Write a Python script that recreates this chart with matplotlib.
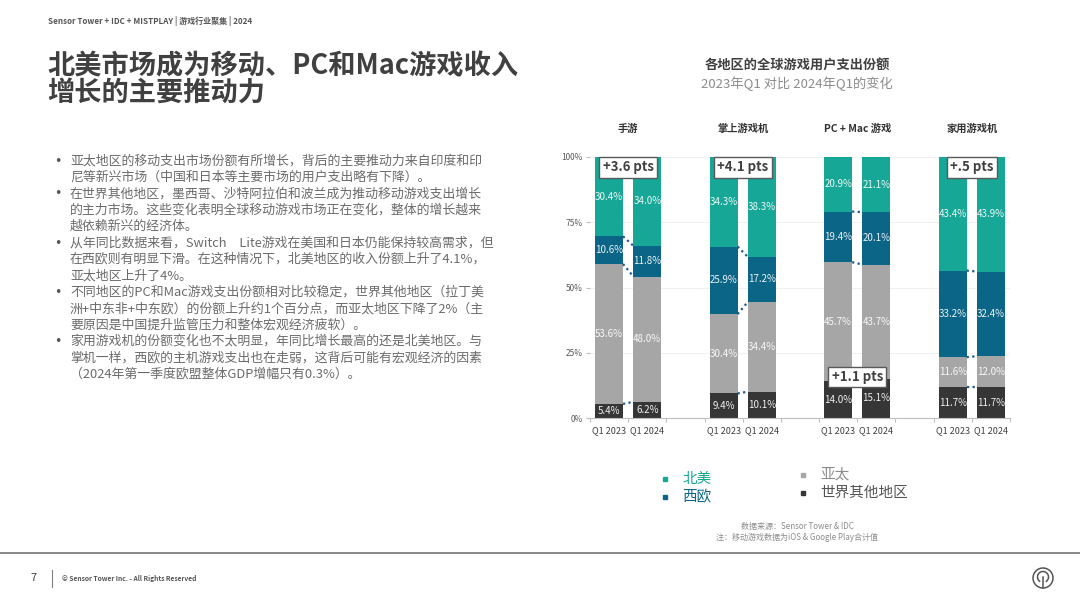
import matplotlib.pyplot as plt
from matplotlib.lines import Line2D
from matplotlib.patches import Circle, Arc
import numpy as np

plt.rcParams["font.family"] = ["Noto Sans CJK SC", "DejaVu Sans"]

W, H = 1080, 607

# ---- data -------------------------------------------------------------
platforms = ["手游", "掌上游戏机", "PC + Mac 游戏", "家用游戏机"]
periods = ["Q1 2023", "Q1 2024"]
regions = ["世界其他地区", "亚太", "西欧", "北美"]  # stacked bottom -> top

# share of spend (%), per platform: [Q1 2023, Q1 2024]
row_share = [[5.4, 6.2], [9.4, 10.1], [14.0, 15.1], [11.7, 11.7]]
apac_share = [[53.6, 48.0], [30.4, 34.4], [45.7, 43.7], [11.6, 12.0]]
weu_share = [[10.6, 11.8], [25.9, 17.2], [19.4, 20.1], [33.2, 32.4]]
na_share = [[30.4, 34.0], [34.3, 38.3], [20.9, 21.1], [43.4, 43.9]]

change_labels = ["+3.6 pts", "+4.1 pts", "+1.1 pts", "+.5 pts"]
change_region = ["北美", "北美", "世界其他地区", "北美"]

bullets = [
    ["亚太地区的移动支出市场份额有所增长，背后的主要推动力来自印度和印",
     "尼等新兴市场（中国和日本等主要市场的用户支出略有下降）。"],
    ["在世界其他地区，墨西哥、沙特阿拉伯和波兰成为推动移动游戏支出增长",
     "的主力市场。这些变化表明全球移动游戏市场正在变化，整体的增长越来",
     "越依赖新兴的经济体。"],
    ["从年同比数据来看，Switch\u3000Lite游戏在美国和日本仍能保持较高需求，但",
     "在西欧则有明显下滑。在这种情况下，北美地区的收入份额上升了4.1%，",
     "亚太地区上升了4%。"],
    ["不同地区的PC和Mac游戏支出份额相对比较稳定，世界其他地区（拉丁美",
     "洲+中东非+中东欧）的份额上升约1个百分点，而亚太地区下降了2%（主",
     "要原因是中国提升监管压力和整体宏观经济疲软）。"],
    ["家用游戏机的份额变化也不太明显，年同比增长最高的还是北美地区。与",
     "掌机一样，西欧的主机游戏支出也在走弱，这背后可能有宏观经济的因素",
     "（2024年第一季度欧盟整体GDP增幅只有0.3%）。"],
]

colors = {"北美": "#17a797", "西欧": "#0b6587", "亚太": "#a6a6a6", "世界其他地区": "#363636"}
shares = {"世界其他地区": row_share, "亚太": apac_share, "西欧": weu_share, "北美": na_share}


def fx(px):
    return px / W


def fy(py):
    return 1 - py / H


fig = plt.figure(figsize=(10.8, 6.07), dpi=100)
fig.patch.set_facecolor("white")

# ---- page header / title -------------------------------------------------
fig.text(fx(48), fy(21), "Sensor Tower + IDC + MISTPLAY | 游戏行业聚集 | 2024",
         fontsize=5.8, fontweight="bold", color="#555555", va="center")
fig.text(fx(47), fy(66), "北美市场成为移动、PC和Mac游戏收入", fontsize=19.6,
         fontweight="bold", color="#404040", va="center")
fig.text(fx(47), fy(93), "增长的主要推动力", fontsize=19.6,
         fontweight="bold", color="#404040", va="center")

# ---- bullet text ------------------------------------------------------------
y = 161
for para in bullets:
    fig.text(fx(54), fy(y), "•", fontsize=9, family="DejaVu Sans",
             color="#555555", va="center")
    for line in para:
        fig.text(fx(70), fy(y), line, fontsize=9.3, color="#6b6b6b", va="center")
        y += 16.4

# ---- chart ------------------------------------------------------------------
fig.text(fx(797), fy(65), "各地区的全球游戏用户支出份额", fontsize=9.5,
         fontweight="bold", color="#404040", ha="center", va="center")
fig.text(fx(797), fy(84), "2023年Q1 对比 2024年Q1的变化", fontsize=9.5,
         color="#8c8c8c", ha="center", va="center")

ax = fig.add_axes([fx(590), fy(418), fx(1010) - fx(590), fy(157) - fy(418)])
bar_w = 0.73
n_cat = 3 * len(platforms) - 1
ax.set_xlim(-0.5, n_cat - 0.5)
ax.set_ylim(0, 100)

for g, name in enumerate(platforms):
    tops = {}
    for p in range(2):
        x = 3 * g + p
        bottom = 0.0
        for reg in regions:
            v = shares[reg][g][p]
            ax.bar(x, v, bottom=bottom, width=bar_w, color=colors[reg], zorder=2)
            ax.text(x, bottom + v / 2, f"{v:.1f}%", ha="center", va="center",
                    fontsize=7, color="white", alpha=0.92, zorder=3)
            bottom += v
            tops[(reg, p)] = bottom
    # dotted connectors between the two bars
    for reg in regions[:3]:
        ax.plot([3 * g + bar_w / 2, 3 * g + 1 - bar_w / 2],
                [tops[(reg, 0)], tops[(reg, 1)]], linestyle=(0, (1, 1.5)),
                color="#1f5a8a", lw=1.6, zorder=3, clip_on=False)
    # platform heading
    ax.text(3 * g + 0.5, 111, name, ha="center", va="center", fontsize=7.4,
            fontweight="bold", color="#333333", clip_on=False)
    # change annotation box
    reg = change_region[g]
    if reg == "北美":
        by = 96
    else:
        by = max(shares[reg][g]) + 0.6
    ax.text(3 * g + 0.5, by, change_labels[g], ha="center", va="center",
            fontsize=9.5, fontweight="semibold", color="#404040", zorder=5,
            bbox=dict(boxstyle="square,pad=0.25", fc="white", ec="#595959", lw=1.0))

label_pos = [3 * g + p for g in range(len(platforms)) for p in range(2)]
ax.set_xticks(label_pos)
ax.set_xticklabels(periods * len(platforms), fontsize=6.5, color="#404040")
ax.tick_params(axis="x", which="major", length=0, pad=6)
ax.set_xticks(np.arange(-0.5, n_cat, 1.0), minor=True)
ax.tick_params(axis="x", which="minor", length=3, color="#bfbfbf", width=0.8)

ax.set_yticks([0, 25, 50, 75, 100])
ax.set_yticklabels(["0%", "25%", "50%", "75%", "100%"], fontsize=6, color="#595959")
ax.tick_params(axis="y", length=3, color="#bfbfbf", width=0.8, pad=2)
ax.grid(axis="y", color="#f0f0f0", lw=0.8, zorder=0)
for side in ["top", "right", "left"]:
    ax.spines[side].set_visible(False)
ax.spines["bottom"].set_color("#bfbfbf")
ax.spines["bottom"].set_linewidth(0.8)

# ---- legend -----------------------------------------------------------------
legend_items = [("北美", 665, 479, "#17a797"), ("西欧", 665, 497, "#0b6587"),
                ("亚太", 803, 475, "#8c8c8c"), ("世界其他地区", 803, 493, "#555555")]
for reg, lx, ly, tc in legend_items:
    fig.add_artist(Line2D([fx(lx)], [fy(ly)], marker="s", markersize=2.6,
                          color=colors[reg], linestyle="none"))
    fig.text(fx(lx + 17), fy(ly), reg, fontsize=10.5, color=tc, va="center")

fig.text(fx(797), fy(526), "数据来源：Sensor Tower & IDC", fontsize=5.8,
         color="#8c8c8c", ha="center", va="center")
fig.text(fx(797), fy(537), "注：移动游戏数据为iOS & Google Play合计值", fontsize=5.8,
         color="#8c8c8c", ha="center", va="center")

# ---- footer -----------------------------------------------------------------
fig.add_artist(Line2D([0, 1], [fy(553), fy(553)], color="#7f7f7f", lw=1.3))
fig.text(fx(30), fy(578), "7", fontsize=8, color="#404040", va="center")
fig.add_artist(Line2D([fx(52), fx(52)], [fy(570), fy(587)], color="#7f7f7f", lw=0.8))
fig.text(fx(62), fy(578), "© Sensor Tower Inc. - All Rights Reserved", fontsize=4.8,
         fontweight="bold", color="#555555", va="center")

logo = fig.add_axes([fx(1031), fy(590), fx(24), 24 / H])
logo.set_xlim(-12, 12)
logo.set_ylim(-12, 12)
logo.set_aspect("equal")
logo.axis("off")
logo.add_patch(Circle((0, 0), 10, fill=False, ec="#555555", lw=1.1))
logo.add_patch(Arc((0, 1), 11, 11, theta1=-60, theta2=240, ec="#555555", lw=1.1))
logo.plot([0, 0], [1, -10], color="#555555", lw=1.1)

fig.savefig("out.png", dpi=100)
